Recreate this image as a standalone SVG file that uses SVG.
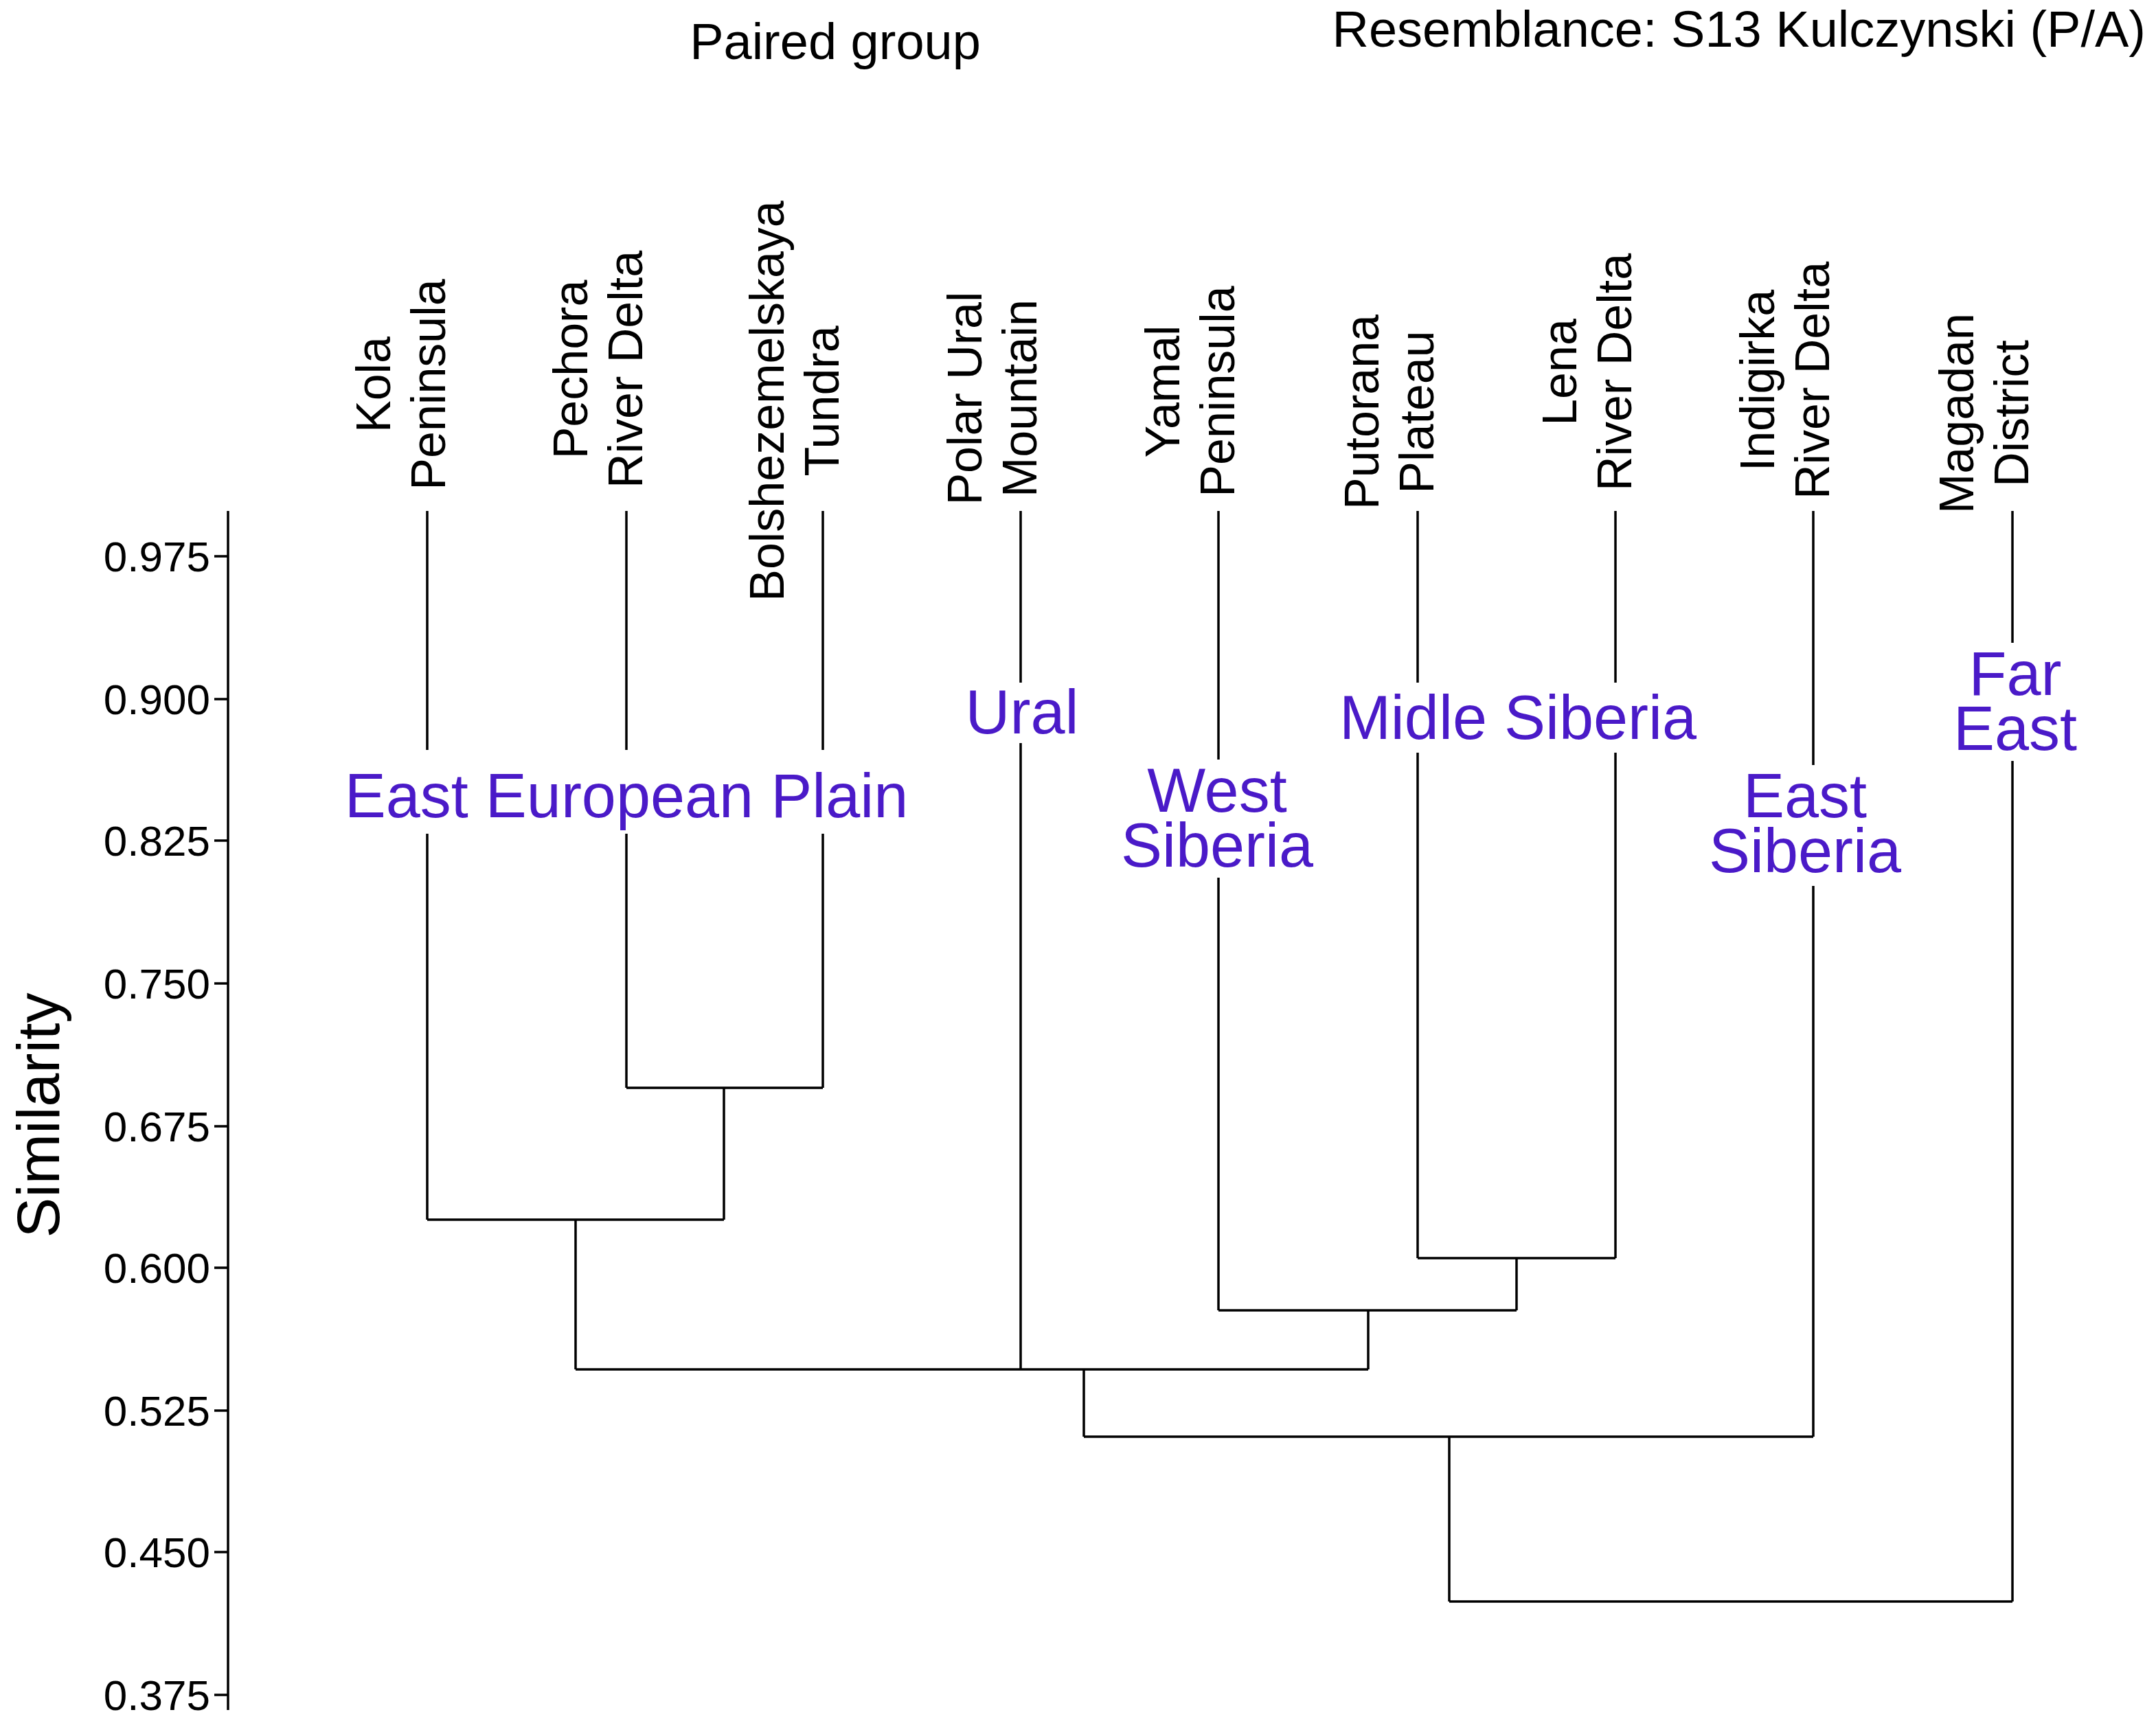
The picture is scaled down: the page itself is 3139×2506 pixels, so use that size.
<svg xmlns="http://www.w3.org/2000/svg" width="3139" height="2506" viewBox="0 0 3139 2506">
<style>
text{font-family:"Liberation Sans",Arial,sans-serif;fill:#000}
.t{font-size:74px}
.tick{font-size:62px;text-anchor:end}
.leaf{font-size:70px;text-anchor:middle}
.grp{font-size:90px;fill:#4a1ac8;text-anchor:middle}
.ln{stroke:#000;stroke-width:3.5;fill:none}
.gap{fill:#fff}
</style>
<rect width="3139" height="2506" fill="#fff"/>
<text class="t" x="1216" y="86" text-anchor="middle">Paired group</text>
<text class="t" x="3124" y="68" text-anchor="end" font-size="72">Resemblance: S13 Kulczynski (P/A)</text>
<g id="axis">
<path class="ln" d="M332 744V2490M312 810H332M312 1018H332M312 1224H332M312 1432H332M312 1640H332M312 1846H332M312 2054H332M312 2260H332M312 2468H332"/>
<text class="tick" x="306" y="832">0.975</text>
<text class="tick" x="306" y="1040">0.900</text>
<text class="tick" x="306" y="1246">0.825</text>
<text class="tick" x="306" y="1454">0.750</text>
<text class="tick" x="306" y="1662">0.675</text>
<text class="tick" x="306" y="1868">0.600</text>
<text class="tick" x="306" y="2076">0.525</text>
<text class="tick" x="306" y="2282">0.450</text>
<text class="tick" x="306" y="2490">0.375</text>
<text x="86" y="1624" font-size="88" text-anchor="middle" transform="rotate(-90 86 1624)">Similarity</text>
</g>
<g id="connectors">
<path class="ln" d="M622 744V1776M912 744V1584M1198 744V1584M1486 744V1994M1774 744V1908M2064 744V1832M2352 744V1832M2640 744V2092M2930 744V2332"/>
<path class="ln" d="M912 1584H1198M1054 1584V1776M622 1776H1054M838 1776V1994M2064 1832H2352M2208 1832V1908M1774 1908H2208M1992 1908V1994M838 1994H1992M1578 1994V2092M1578 2092H2640M2110 2092V2332M2110 2332H2930"/>
</g>
<g id="leaves">
<text class="leaf" transform="translate(568 560) rotate(-90)">Kola</text>
<text class="leaf" transform="translate(648 560) rotate(-90)">Peninsula</text>
<text class="leaf" transform="translate(855 538) rotate(-90)">Pechora</text>
<text class="leaf" transform="translate(935 538) rotate(-90)">River Delta</text>
<text class="leaf" transform="translate(1141 584) rotate(-90)">Bolshezemelskaya</text>
<text class="leaf" transform="translate(1221 584) rotate(-90)">Tundra</text>
<text class="leaf" transform="translate(1429 580) rotate(-90)">Polar Ural</text>
<text class="leaf" transform="translate(1509 580) rotate(-90)">Mountain</text>
<text class="leaf" transform="translate(1717 570) rotate(-90)">Yamal</text>
<text class="leaf" transform="translate(1797 570) rotate(-90)">Peninsula</text>
<text class="leaf" transform="translate(2007 600) rotate(-90)">Putorana</text>
<text class="leaf" transform="translate(2087 600) rotate(-90)">Plateau</text>
<text class="leaf" transform="translate(2295 542) rotate(-90)">Lena</text>
<text class="leaf" transform="translate(2375 542) rotate(-90)">River Delta</text>
<text class="leaf" transform="translate(2583 554) rotate(-90)">Indigirka</text>
<text class="leaf" transform="translate(2663 554) rotate(-90)">River Delta</text>
<text class="leaf" transform="translate(2873 602) rotate(-90)">Magadan</text>
<text class="leaf" transform="translate(2953 602) rotate(-90)">District</text>
</g>
<g id="groups">
<rect class="gap" x="500" y="1092" width="824" height="122"/>
<text class="grp" x="912" y="1190">East European Plain</text>
<rect class="gap" x="1400" y="994" width="176" height="88"/>
<text class="grp" x="1488" y="1068">Ural</text>
<rect class="gap" x="1630" y="1106" width="284" height="172"/>
<text class="grp" x="1772" y="1182">West</text>
<text class="grp" x="1772" y="1262">Siberia</text>
<rect class="gap" x="1950" y="994" width="520" height="102"/>
<text class="grp" x="2210" y="1076">Midle Siberia</text>
<rect class="gap" x="2486" y="1114" width="284" height="176"/>
<text class="grp" x="2628" y="1190">East</text>
<text class="grp" x="2628" y="1270">Siberia</text>
<rect class="gap" x="2840" y="936" width="188" height="172"/>
<text class="grp" x="2934" y="1012">Far</text>
<text class="grp" x="2934" y="1092">East</text>
</g>
</svg>
